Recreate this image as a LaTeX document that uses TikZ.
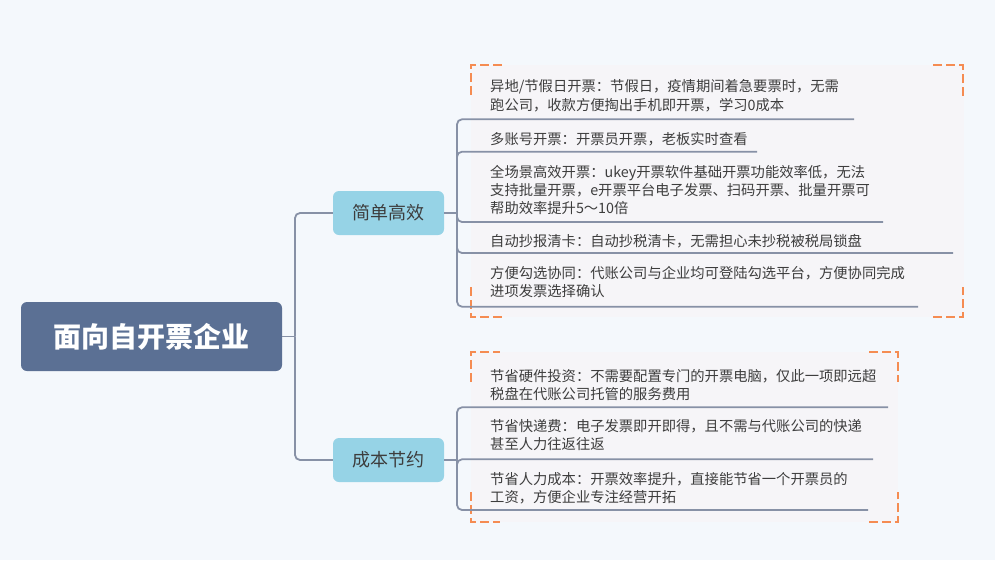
\documentclass[tikz,border=0pt]{standalone}
\usepackage{fontspec}
\setmainfont{Noto Sans CJK SC}
\definecolor{bgc}{HTML}{F4F8FC}
\definecolor{boxc}{HTML}{F6F5F8}
\definecolor{rootc}{HTML}{5B7094}
\definecolor{brc}{HTML}{96D3E6}
\definecolor{linec}{HTML}{8791A6}
\definecolor{orc}{HTML}{F58C52}
\definecolor{txtc}{HTML}{3D3D3D}
\tikzset{
  rootbox/.style={fill=rootc, rounded corners=6pt, minimum width=261pt, minimum height=69pt, inner sep=0pt, text=white, font=\fontsize{28}{32}\selectfont\bfseries},
  brbox/.style={fill=brc, rounded corners=6pt, minimum width=111pt, minimum height=44pt, inner sep=0pt, text=txtc, font=\fontsize{18}{22}\selectfont},
  leaf/.style={anchor=north west, inner sep=0pt, align=left, text=txtc, font=\fontsize{14.3}{18.2}\selectfont},
  conn/.style={draw=linec, line width=1.8pt, rounded corners=5pt},
  corner/.style={draw=orc, line width=1.8pt, dash pattern=on 9pt off 4pt},
  grpbox/.style={fill=boxc}
}
\begin{document}
\begin{tikzpicture}[x=1pt,y=-1pt]
\useasboundingbox[fill=bgc] (0,0) rectangle (995,560);
% group backgrounds
\fill[boxc] (471,65) rectangle (964,317);
\fill[boxc] (471,352) rectangle (898,522);
% dashed corners group 1
\draw[corner] (471,95) -- (471,65) -- (502,65);
\draw[corner] (933,65) -- (963,65) -- (963,96);
\draw[corner] (471,287) -- (471,317) -- (502,317);
\draw[corner] (933,317) -- (963,317) -- (963,287);
% dashed corners group 2
\draw[corner] (471,382) -- (471,352) -- (500,352);
\draw[corner] (869,352) -- (898,352) -- (898,382);
\draw[corner] (471,492) -- (471,522) -- (500,522);
\draw[corner] (869,522) -- (898,522) -- (898,492);
% nodes
\node[rootbox] (root) at (151.5,336.5) {面向自开票企业};
\node[brbox] (b1) at (388.5,213) {简单高效};
\node[brbox] (b2) at (388.5,460) {成本节约};
\node[leaf] (l1) at (490,79.5) {异地/节假日开票：节假日，疫情期间着急要票时，无需\\跑公司，收款方便掏出手机即开票，学习0成本};
\node[leaf] (l2) at (490,131.8) {多账号开票：开票员开票，老板实时查看};
\node[leaf] (l3) at (490,165.1) {全场景高效开票：ukey开票软件基础开票功能效率低，无法\\支持批量开票，e开票平台电子发票、扫码开票、批量开票可\\帮助效率提升5～10倍};
\node[leaf] (l4) at (490,234.5) {自动抄报清卡：自动抄税清卡，无需担心未抄税被税局锁盘};
\node[leaf] (l5) at (490,266.1) {方便勾选协同：代账公司与企业均可登陆勾选平台，方便协同完成\\进项发票选择确认};
\node[leaf] (l6) at (490,369.5) {节省硬件投资：不需要配置专门的开票电脑，仅此一项即远超\\税盘在代账公司托管的服务费用};
\node[leaf] (l7) at (490,419.5) {节省快递费：电子发票即开即得，且不需与代账公司的快递\\甚至人力往返往返};
\node[leaf] (l8) at (490,472.1) {节省人力成本：开票效率提升，直接能节省一个开票员的\\工资，方便企业专注经营开拓};
% junction coordinates
\coordinate (j0) at (295,336.5);
\coordinate (j1) at (457,213);
\coordinate (j2) at (457,460);
\coordinate (u1) at (854,119.3);
\coordinate (u2) at (757,151.7);
\coordinate (u3) at (883,222);
\coordinate (u4) at (953,253);
\coordinate (u5) at (918,306.7);
\coordinate (u6) at (888,407.3);
\coordinate (u7) at (873,459.3);
\coordinate (u8) at (868,510);
% connectors root
\draw[conn] (root.east) -- (j0);
\draw[conn] (j0) |- (b1.west);
\draw[conn] (j0) |- (b2.west);
% branch 1
\draw[conn] (b1.east) -- (j1);
\foreach \u in {u1,u2,u3,u4,u5}{\draw[conn] (j1) |- (\u);}
% branch 2
\draw[conn] (b2.east) -- (j2);
\foreach \u in {u6,u7,u8}{\draw[conn] (j2) |- (\u);}
\end{tikzpicture}
\end{document}
